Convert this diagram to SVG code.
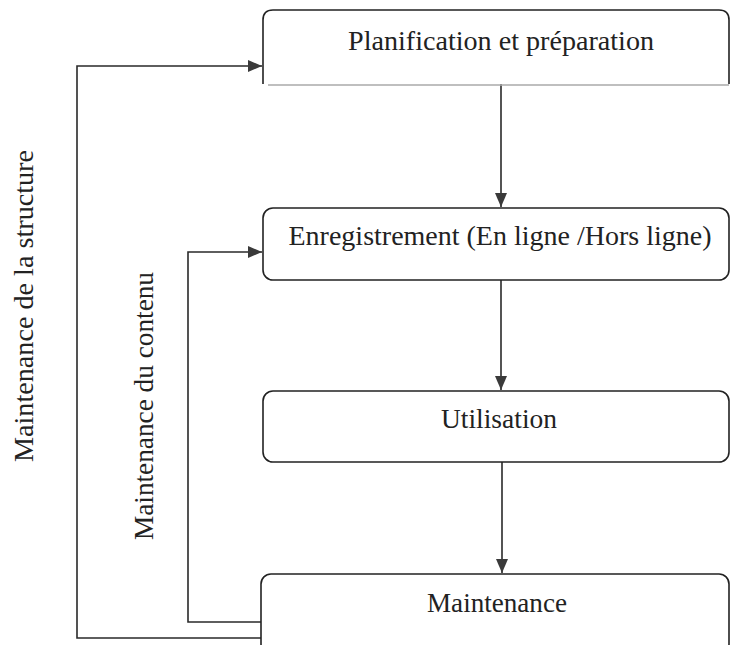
<svg xmlns="http://www.w3.org/2000/svg" width="730" height="645" viewBox="0 0 730 645">
  <defs>
    <marker id="arrow" viewBox="0 0 14 12" refX="14" refY="6" markerWidth="14" markerHeight="12" markerUnits="userSpaceOnUse" orient="auto">
      <path d="M0,0 L14,6 L0,12 z" fill="#3a3a3a"/>
    </marker>
    <style>
      .box { fill: #fff; stroke: #222; stroke-width: 1.6; }
      .edge { fill: none; stroke: #2a2a2a; stroke-width: 1.6; }
      .lbl { fill: #222; text-anchor: middle; }
    </style>
  </defs>

  <rect width="730" height="645" fill="#fff"/>

  <!-- connectors -->
  <g id="connectors">
    <line class="edge" x1="501" y1="84" x2="501" y2="207" marker-end="url(#arrow)"/>
    <line class="edge" x1="501" y1="280" x2="501" y2="390" marker-end="url(#arrow)"/>
    <line class="edge" x1="502" y1="462" x2="502" y2="573" marker-end="url(#arrow)"/>
    <!-- content maintenance loop -->
    <polyline class="edge" points="261,622 188,622 188,252 262,252" marker-end="url(#arrow)"/>
    <!-- structure maintenance loop -->
    <polyline class="edge" points="261,638 77,638 77,66 262,66" marker-end="url(#arrow)"/>
  </g>

  <g font-family="Liberation Serif" font-size="27">
    <!-- loop labels -->
    <text class="lbl" transform="translate(33,306) rotate(-90)" textLength="312" lengthAdjust="spacingAndGlyphs">Maintenance de la structure</text>
    <text class="lbl" transform="translate(153,406) rotate(-90)" textLength="268" lengthAdjust="spacingAndGlyphs">Maintenance du contenu</text>

    <g id="planification">
      <path d="M263,84 L263,20 Q263,10 273,10 L719,10 Q729,10 729,20 L729,84" fill="#fff" stroke="#222" stroke-width="1.6"/>
      <line x1="268" y1="85" x2="729" y2="85" stroke="#aaa" stroke-width="1.4"/>
      <text class="lbl" x="501" y="50" textLength="306" lengthAdjust="spacingAndGlyphs">Planification et préparation</text>
    </g>

    <g id="enregistrement">
      <rect class="box" x="263" y="208" width="466" height="72" rx="10"/>
      <text class="lbl" x="500" y="245" textLength="423" lengthAdjust="spacingAndGlyphs">Enregistrement (En ligne /Hors ligne)</text>
    </g>

    <g id="utilisation">
      <rect class="box" x="263" y="391" width="466" height="71" rx="10"/>
      <text class="lbl" x="499" y="428" textLength="116" lengthAdjust="spacingAndGlyphs">Utilisation</text>
    </g>

    <g id="maintenance">
      <rect class="box" x="261" y="574" width="468" height="80" rx="10"/>
      <text class="lbl" x="497" y="612" textLength="140" lengthAdjust="spacingAndGlyphs">Maintenance</text>
    </g>
  </g>
</svg>
